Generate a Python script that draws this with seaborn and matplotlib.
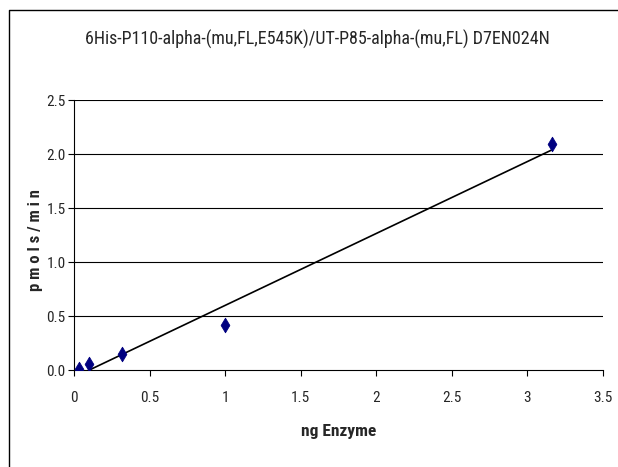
import numpy as np
import pandas as pd
import seaborn as sns
import matplotlib
matplotlib.use("Agg")
import matplotlib.pyplot as plt
from matplotlib.lines import Line2D

# measured points
ng_enzyme = [0.0316, 0.1, 0.316, 1.0, 3.16]
pmols_min = [0.01, 0.06, 0.15, 0.42, 2.09]
x_ticks = [0, 0.5, 1, 1.5, 2, 2.5, 3, 3.5]
x_tick_labels = ["0", "0.5", "1", "1.5", "2", "2.5", "3", "3.5"]
y_ticks = [0.0, 0.5, 1.0, 1.5, 2.0, 2.5]
y_tick_labels = ["0.0", "0.5", "1.0", "1.5", "2.0", "2.5"]
title = "6His-P110-alpha-(mu,FL,E545K)/UT-P85-alpha-(mu,FL) D7EN024N"

sns.set_style("white")
plt.rcParams["font.family"] = ["Roboto Condensed", "IBM Plex Sans Condensed", "DejaVu Sans"]

df = pd.DataFrame({"x": ng_enzyme, "y": pmols_min})

# linear trendline, like the spreadsheet one
slope, intercept = np.polyfit(df["x"], df["y"], 1)
trend = pd.DataFrame({"x": [min(ng_enzyme), max(ng_enzyme)]})
trend["y"] = slope * trend["x"] + intercept

fig = plt.figure(figsize=(6.18, 4.67), dpi=100)
# chart-area border (only left and top edges fall inside the image)
bx, by = 9 / 618, 1 - 10 / 467
fig.lines.append(Line2D([bx, bx, 1.0], [0.0, by, by], transform=fig.transFigure,
                        color="black", linewidth=1))
ax = fig.add_axes([74 / 618, 97 / 467, 529 / 618, 270 / 467])

for yv in y_ticks[1:]:
    ax.axhline(yv, color="black", linewidth=0.8, zorder=0)

sns.lineplot(data=trend, x="x", y="y", ax=ax, color="black", linewidth=1.2)
sns.scatterplot(data=df, x="x", y="y", ax=ax, marker="d", color="#000080",
                s=55, edgecolor="#000080", zorder=3)

ax.set_xlim(0, 3.5)
ax.set_ylim(0, 2.5)
ax.set_xticks(x_ticks)
ax.set_xticklabels(x_tick_labels)
ax.set_yticks(y_ticks)
ax.set_yticklabels(y_tick_labels)
ax.tick_params(axis="both", direction="out", length=4, width=0.8,
               labelsize=11, color="black", bottom=True, left=True)
ax.tick_params(axis="x", pad=11)
ax.tick_params(axis="y", pad=2)
for side in ["top", "right"]:
    ax.spines[side].set_visible(False)
for side in ["left", "bottom"]:
    ax.spines[side].set_color("black")
    ax.spines[side].set_linewidth(0.8)

ax.set_xlabel("ng Enzyme", fontsize=12.5, fontweight="bold")
ax.xaxis.set_label_coords(0.5, -0.2)
ax.set_ylabel("p m o l s / m i n", fontsize=12, fontweight="bold", va="center")
ax.yaxis.set_label_coords(-0.072, 0.48)
fig.text(317 / 618, 1 - 39.5 / 467, title, ha="center", va="center", fontsize=13)

fig.savefig("out.png", dpi=100)
